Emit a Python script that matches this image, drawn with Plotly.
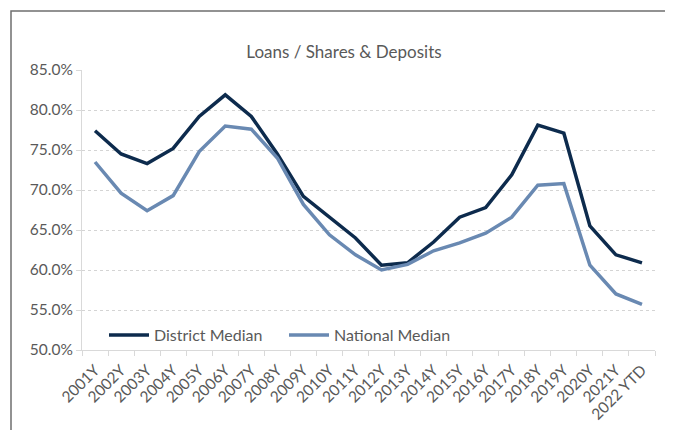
import plotly.graph_objects as go

categories = ["2001Y", "2002Y", "2003Y", "2004Y", "2005Y", "2006Y", "2007Y", "2008Y",
              "2009Y", "2010Y", "2011Y", "2012Y", "2013Y", "2014Y", "2015Y", "2016Y",
              "2017Y", "2018Y", "2019Y", "2020Y", "2021Y", "2022 YTD"]
district_median = [77.4, 74.5, 73.3, 75.2, 79.2, 81.9, 79.2, 74.5, 69.2, 66.6, 64.0, 60.6,
                   60.9, 63.5, 66.6, 67.8, 71.9, 78.1, 77.1, 65.5, 61.9, 60.9]
national_median = [73.5, 69.6, 67.4, 69.3, 74.8, 78.0, 77.6, 74.0, 68.2, 64.4, 61.9, 60.0,
                   60.7, 62.4, 63.4, 64.6, 66.6, 70.6, 70.8, 60.6, 57.0, 55.7]

FONT = "Lato"
GRAY = "#595959"

fig = go.Figure()
fig.add_trace(go.Scatter(x=categories, y=district_median, mode="lines",
                         name="District Median",
                         line=dict(color="#0d2b4d", width=3.5)))
fig.add_trace(go.Scatter(x=categories, y=national_median, mode="lines",
                         name="National Median",
                         line=dict(color="#6989b2", width=3.5)))

OFF = 8  # page body margin
W, H = 673 - OFF, 430 - OFF
L, R, T, B = 82 - OFF, 18, 70 - OFF, 80
pw, ph = W - L - R, H - T - B

fig.update_layout(
    width=W, height=H,
    margin=dict(l=L, r=R, t=T, b=B, pad=0, autoexpand=False),
    paper_bgcolor="white", plot_bgcolor="white",
    font=dict(family=FONT, color=GRAY, size=14),
    title=dict(text="Loans / Shares & Deposits", x=(344 - OFF) / W, xref="container",
               xanchor="center", y=1 - (52 - OFF) / H, yref="container", yanchor="middle",
               font=dict(family=FONT, size=17, color=GRAY)),
    showlegend=True,
    legend=dict(orientation="h", x=(104 - 82) / pw, xanchor="left",
                y=15 / ph, yanchor="middle",
                bgcolor="rgba(0,0,0,0)", font=dict(family=FONT, size=16, color=GRAY),
                itemwidth=40, entrywidthmode="pixels", entrywidth=125),
    xaxis=dict(type="category", tickangle=-45, showgrid=False,
               showline=True, linecolor="#d9d9d9", linewidth=1,
               ticks="outside", tickson="boundaries", ticklen=5, tickcolor="#d9d9d9",
               ticklabelstandoff=4,
               tickfont=dict(family=FONT, size=15.5, color=GRAY),
               range=[-0.5, len(categories) - 0.5]),
    yaxis=dict(range=[50, 85], dtick=5, tick0=50, tickformat=".1f", ticksuffix="%",
               showgrid=True, gridcolor="#d4d4d4", griddash="dot", gridwidth=1,
               showline=True, linecolor="#d9d9d9", linewidth=1,
               ticks="outside", ticklen=5, tickcolor="#d9d9d9",
               tickfont=dict(family=FONT, size=15.5, color=GRAY), zeroline=False),
)

# outer chart border
fig.add_shape(type="rect", xref="paper", yref="paper",
              x0=(11 - 82) / pw, x1=(667 - 82) / pw,
              y0=-0.6, y1=(350 - 11) / ph,
              line=dict(color="#6f6f6f", width=1.5), fillcolor="rgba(0,0,0,0)", layer="below")

fig.write_html("out.html")
